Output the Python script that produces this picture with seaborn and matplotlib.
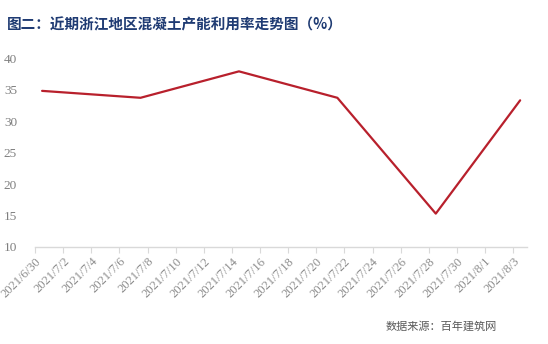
import matplotlib
matplotlib.use("Agg")
import matplotlib.pyplot as plt
import matplotlib.transforms as mtransforms
import seaborn as sns
import pandas as pd
import numpy as np

# data
dates = ["2021/6/30", "2021/7/7", "2021/7/14", "2021/7/21", "2021/7/28", "2021/8/3"]
values = [34.8, 33.7, 37.9, 33.7, 15.3, 33.3]
tick_labels = ["2021/6/30", "2021/7/2", "2021/7/4", "2021/7/6", "2021/7/8", "2021/7/10",
               "2021/7/12", "2021/7/14", "2021/7/16", "2021/7/18", "2021/7/20", "2021/7/22",
               "2021/7/24", "2021/7/26", "2021/7/28", "2021/7/30", "2021/8/1", "2021/8/3"]
yticks = [10, 15, 20, 25, 30, 35, 40]
title = "图二：近期浙江地区混凝土产能利用率走势图（%）"
source = "数据来源：百年建筑网"

sns.set_theme(style="white")
plt.rcParams['font.family'] = ['Noto Sans CJK SC', 'DejaVu Sans']

start = pd.Timestamp("2021-06-30")
day = [(pd.Timestamp(d) - start).days + 0.5 for d in dates]
df = pd.DataFrame({"day": day, "value": values})
tick_pos = [(pd.Timestamp(t) - start).days for t in tick_labels]

fig = plt.figure(figsize=(5.48, 3.44), dpi=100)
ax = fig.add_axes([0.064, 0.282, 0.898, 0.549])
sns.lineplot(data=df, x="day", y="value", ax=ax, color="#B8202C", linewidth=1.6)

ax.set_xlim(0, 35)
ax.set_ylim(10, 40)
ax.set_yticks(yticks)
ax.set_yticklabels([str(v) for v in yticks], fontsize=9.5, color="#7F7F7F",
                   family=['Liberation Serif'])
ax.set_xticks(tick_pos)
ax.set_xticklabels(tick_labels, rotation=45, ha="right", rotation_mode="anchor",
                   fontsize=9, color="#8C8C8C", family=['Liberation Serif'])
offset = mtransforms.ScaledTranslation(4 / 100, 0, fig.dpi_scale_trans)
for lbl in ax.get_xticklabels():
    lbl.set_transform(lbl.get_transform() + offset)
ax.tick_params(axis="x", bottom=True, length=4, width=0.8, color="#D9D9D9", pad=2)
ax.tick_params(axis="y", left=False, pad=7)
for s in ["top", "right", "left"]:
    ax.spines[s].set_visible(False)
ax.spines["bottom"].set_color("#D9D9D9")
ax.spines["bottom"].set_linewidth(1)
ax.set_xlabel("")
ax.set_ylabel("")
ax.grid(False)

fig.text(0.013, 0.93, title, fontsize=10.5, fontweight="bold", color="#1F3B73",
         ha="left", va="center")
fig.text(0.907, 0.052, source, fontsize=8, color="#595959", ha="right", va="center")

fig.savefig("out.png", dpi=100)
